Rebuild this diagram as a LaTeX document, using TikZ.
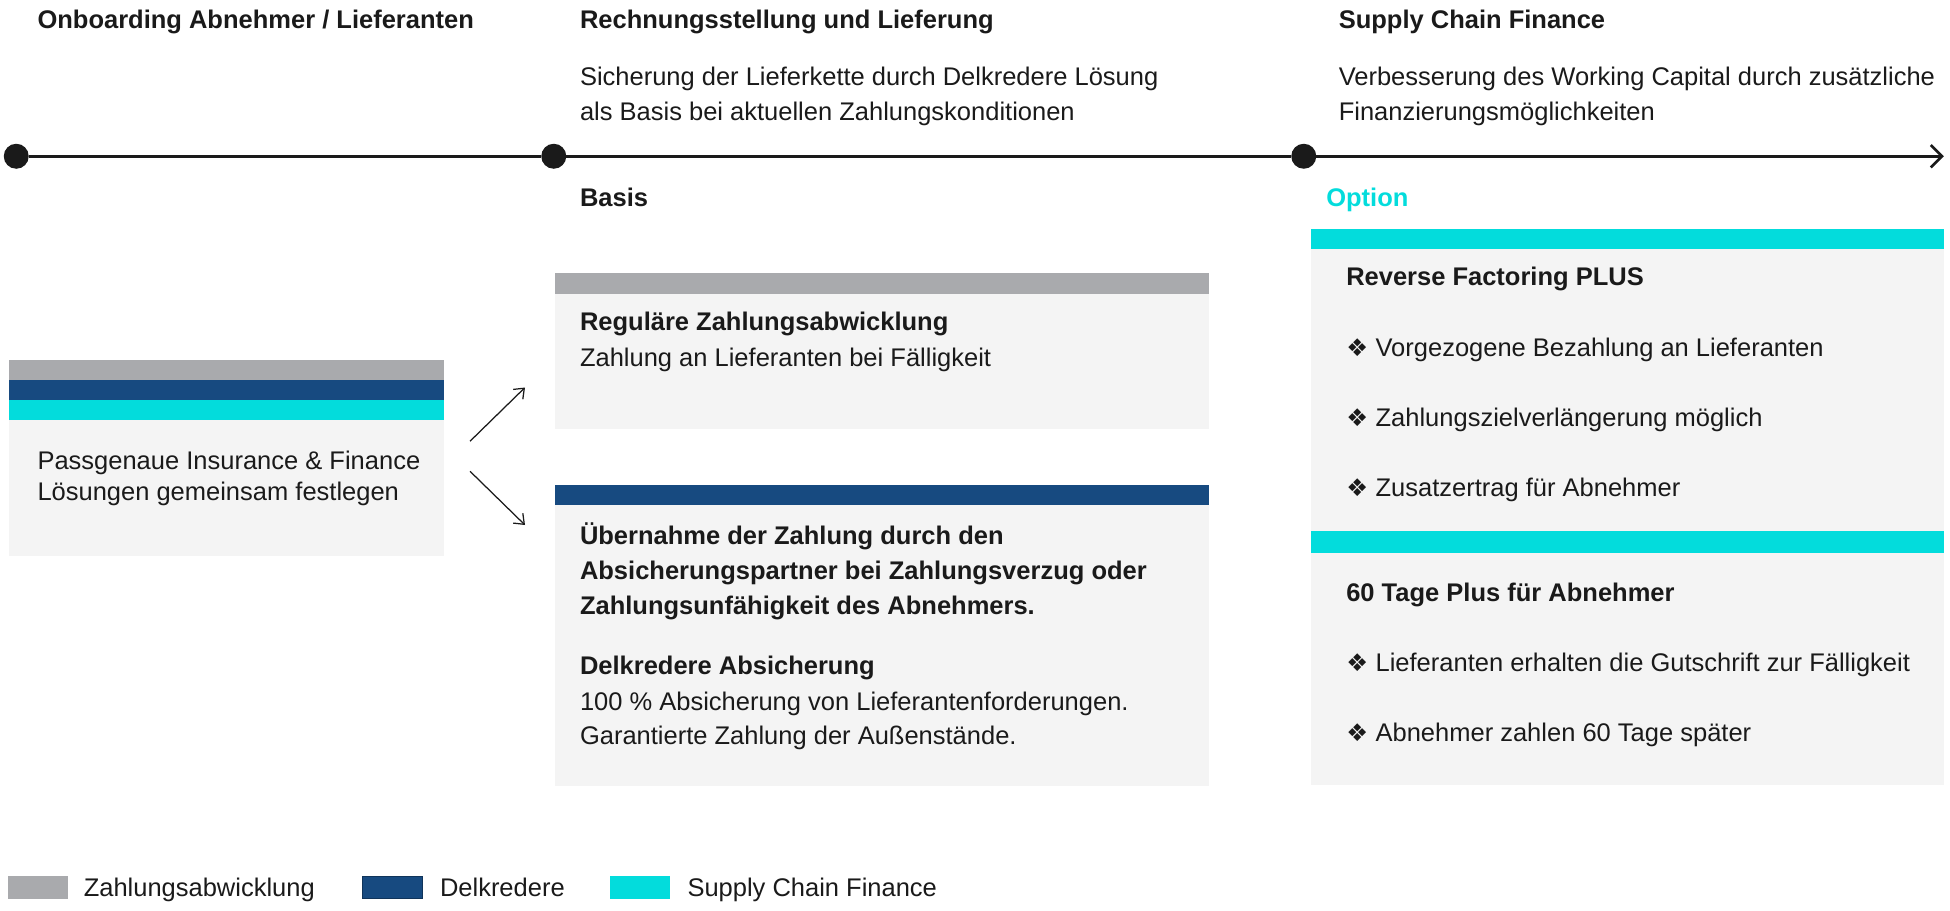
\documentclass[tikz,border=0pt]{standalone}
\usepackage{fontspec}
\setmainfont{Liberation Sans}
\newfontfamily\symfnt{DejaVu Sans}
\usetikzlibrary{arrows.meta}
\definecolor{txt}{HTML}{1A1A1A}
\definecolor{bargray}{HTML}{A9AAAD}
\definecolor{barblue}{HTML}{174A80}
\definecolor{barcyan}{HTML}{03DCDC}
\definecolor{boxbg}{HTML}{F4F4F4}
\newcommand{\blt}{{\symfnt\fontsize{19.5}{20}\selectfont ❖}\hspace{6pt}}
\begin{document}
\begin{tikzpicture}[x=1pt,y=-1pt,
  every node/.style={inner sep=0pt,outer sep=0pt,text=txt},
  lbl/.style={anchor=base west,font=\fontsize{20.4}{24}\selectfont},
  hdr/.style={anchor=base west,font=\fontsize{20.4}{24}\selectfont\bfseries},
  bar/.style={anchor=north west,minimum height=16.5pt},
  panel/.style={anchor=north west,fill=boxbg},
  dotnode/.style={circle,fill=txt,minimum size=20pt},
  legbox/.style={anchor=north west,minimum width=48pt,minimum height=18pt},
  conn/.style={draw=txt,line width=1pt,-{Straight Barb[length=7pt,width=11pt,line width=1pt]}},
  tl/.style={draw=txt,line width=2pt}
]
\useasboundingbox (0,0) rectangle (1560,728);

% headings
\node[hdr] (h1) at (30,22.5) {Onboarding Abnehmer / Lieferanten};
\node[hdr] (h2) at (464,22.5) {Rechnungsstellung und Lieferung};
\node[hdr] (h3) at (1071,22.5) {Supply Chain Finance};
\node[lbl] (s2a) at (464,68.5) {Sicherung der Lieferkette durch Delkredere Lösung};
\node[lbl] (s2b) at (464,96.5) {als Basis bei aktuellen Zahlungskonditionen};
\node[lbl] (s3a) at (1071,68.5) {Verbesserung des Working Capital durch zusätzliche};
\node[lbl] (s3b) at (1071,96.5) {Finanzierungsmöglichkeiten};

% timeline
\coordinate (tend) at (1555,125);
\node[dotnode] (d1) at (13,125) {};
\node[dotnode] (d2) at (443,125) {};
\node[dotnode] (d3) at (1043,125) {};
\draw[tl] (d1) -- (d2);
\draw[tl] (d2) -- (d3);
\draw[tl,-{Straight Barb[length=9pt,width=18pt,line width=2pt]}] (d3) -- (tend);

\node[hdr] (basis) at (464,165.5) {Basis};
\node[hdr,text=barcyan] (option) at (1061,165.5) {Option};

% left box
\node[bar,fill=bargray,minimum width=348pt] (lg) at (7,288) {};
\node[bar,fill=barblue,minimum width=348pt] (lb) at (7,304) {};
\node[bar,fill=barcyan,minimum width=348pt] (lc) at (7,320) {};
\node[panel,minimum width=348pt,minimum height=109pt] (lp) at (7,336) {};
\node[lbl] (lt1) at (30,375.5) {Passgenaue Insurance \& Finance};
\node[lbl] (lt2) at (30,400.5) {Lösungen gemeinsam festlegen};

% arrows
\coordinate (a1s) at (376,353);
\coordinate (a1e) at (420,310);
\coordinate (a2s) at (376,377);
\coordinate (a2e) at (420,420);
\draw[conn] (a1s) -- (a1e);
\draw[conn] (a2s) -- (a2e);

% middle top box
\node[bar,fill=bargray,minimum width=523pt,minimum height=17pt] (mg) at (444,218) {};
\node[panel,minimum width=523pt,minimum height=108pt] (mp1) at (444,235) {};
\node[hdr] (m1) at (464,264.5) {Reguläre Zahlungsabwicklung};
\node[lbl] (m2) at (464,293.5) {Zahlung an Lieferanten bei Fälligkeit};

% middle bottom box
\node[bar,fill=barblue,minimum width=523pt] (mb) at (444,388) {};
\node[panel,minimum width=523pt,minimum height=225pt] (mp2) at (444,404) {};
\node[hdr] (m3) at (464,435.5) {Übernahme der Zahlung durch den};
\node[hdr] (m4) at (464,463.5) {Absicherungspartner bei Zahlungsverzug oder};
\node[hdr] (m5) at (464,491.5) {Zahlungsunfähigkeit des Abnehmers.};
\node[hdr] (m6) at (464,539.5) {Delkredere Absicherung};
\node[lbl] (m7) at (464,568.5) {100 \% Absicherung von Lieferantenforderungen.};
\node[lbl] (m8) at (464,595.5) {Garantierte Zahlung der Außenstände.};

% right column
\node[bar,fill=barcyan,minimum width=506pt] (rc1) at (1049,183) {};
\node[panel,minimum width=506pt,minimum height=226pt] (rp1) at (1049,199) {};
\node[hdr] (r1) at (1077,228.5) {Reverse Factoring PLUS};
\node[lbl] (r2) at (1077,285.5) {\blt Vorgezogene Bezahlung an Lieferanten};
\node[lbl] (r3) at (1077,341.5) {\blt Zahlungszielverlängerung möglich};
\node[lbl] (r4) at (1077,397.5) {\blt Zusatzertrag für Abnehmer};
\node[bar,fill=barcyan,minimum width=506pt,minimum height=17pt] (rc2) at (1049,425) {};
\node[panel,minimum width=506pt,minimum height=186pt] (rp2) at (1049,442) {};
\node[hdr] (r5) at (1077,481.5) {60 Tage Plus für Abnehmer};
\node[lbl] (r6) at (1077,537.5) {\blt Lieferanten erhalten die Gutschrift zur Fälligkeit};
\node[lbl] (r7) at (1077,593.5) {\blt Abnehmer zahlen 60 Tage später};

% legend
\node[legbox,fill=bargray] (k1) at (6,701) {};
\node[lbl] (k1t) at (67,717.5) {Zahlungsabwicklung};
\node[legbox,fill=barblue,draw=barblue!70!black,line width=1pt] (k2) at (290,701) {};
\node[lbl] (k2t) at (352,717.5) {Delkredere};
\node[legbox,fill=barcyan] (k3) at (488,701) {};
\node[lbl] (k3t) at (550,717.5) {Supply Chain Finance};
\end{tikzpicture}
\end{document}
